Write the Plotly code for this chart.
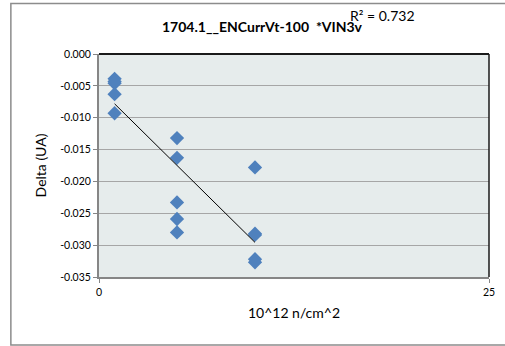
import plotly.graph_objects as go
import numpy as np

# fluence (10^12 n/cm^2) and measured delta
fluence = [1, 1, 1, 1, 1,
           5, 5, 5, 5, 5,
           10, 10, 10, 10, 10]
delta = [-0.0039, -0.0043, -0.0046, -0.0063, -0.0093,
         -0.0132, -0.0163, -0.0233, -0.0259, -0.0280,
         -0.0178, -0.0282, -0.0284, -0.0322, -0.0327]

y_ticks = [0.0, -0.005, -0.010, -0.015, -0.020, -0.025, -0.030, -0.035]
x_ticks = [0, 25]

title_text = "<b>1704.1__ENCurrVt-100  *VIN3v</b>"
r2_text = "R² = 0.732"

font_name = "Lato, Liberation Sans, sans-serif"

# linear trendline over the data range
slope, icpt = np.polyfit(fluence, delta, 1)
fit_x = [min(fluence), max(fluence)]
fit_y = [slope * v + icpt for v in fit_x]

fig = go.Figure()

fig.add_trace(go.Scatter(
    x=fluence, y=delta,
    mode="markers",
    marker=dict(symbol="diamond", size=11, color="#4F81BD"),
    showlegend=False,
))

fig.add_trace(go.Scatter(
    x=fit_x, y=fit_y,
    mode="lines",
    line=dict(color="black", width=1),
    showlegend=False,
))

fig.update_layout(
    width=505, height=346,
    margin=dict(l=99, r=10, t=54, b=69),
    paper_bgcolor="white",
    plot_bgcolor="#E6ECEC",
    font=dict(family=font_name, size=10.5, color="black"),
    xaxis=dict(
        range=[0, 25], tickvals=x_ticks, ticktext=[str(v) for v in x_ticks],
        showgrid=False, zeroline=False,
        showline=True, linecolor="#868686", linewidth=2,
        ticks="outside", ticklen=4, tickcolor="#868686",
        title=dict(text="10^12 n/cm^2", font=dict(size=14), standoff=12),
    ),
    yaxis=dict(
        range=[-0.035, 0.0], tickvals=y_ticks,
        ticktext=["%.3f" % v if v != 0 else "0.000" for v in y_ticks],
        showgrid=True, gridcolor="#A6A6A6", gridwidth=1, zeroline=False,
        showline=True, linecolor="#868686", linewidth=2,
        ticks="outside", ticklen=4, tickcolor="#868686",
        title=dict(text="Delta (UA)", font=dict(size=14), standoff=10),
    ),
    shapes=[
        # top and right edge of plot area
        dict(type="line", xref="paper", yref="paper", x0=0, x1=1, y0=1, y1=1,
             line=dict(color="#1a1a1a", width=2)),
        dict(type="line", xref="paper", yref="paper", x0=1, x1=1, y0=0, y1=1,
             line=dict(color="#1a1a1a", width=1.5)),
        # outer chart frame
        dict(type="rect", xref="paper", yref="paper",
             x0=-0.2260, x1=1.05, y0=-0.3050, y1=1.2270,
             line=dict(color="#8C8C8C", width=1.5), layer="below"),
    ],
    annotations=[
        dict(text=title_text, xref="paper", yref="paper", x=0.419, y=1.125,
             showarrow=False, font=dict(size=14), xanchor="center", yanchor="middle"),
        dict(text=r2_text, xref="paper", yref="paper", x=0.638, y=1.172,
             showarrow=False, font=dict(size=14), xanchor="left", yanchor="middle"),
    ],
)

# plotly's page keeps the default 8px body margin; drop it so the chart sits at 0,0
fig.write_html("out.html", config={"displayModeBar": False},
               post_script="document.body.style.margin='0px';")
